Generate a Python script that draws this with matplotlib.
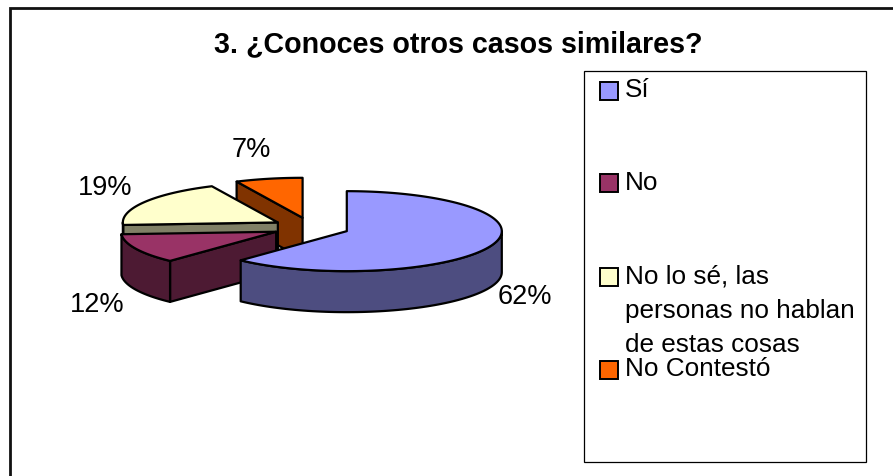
import numpy as np
import matplotlib
matplotlib.use("Agg")
import matplotlib.pyplot as plt
from matplotlib.patches import Polygon, Rectangle

title = "3. ¿Conoces otros casos similares?"
categories = ["Sí", "No", "No lo sé, las\npersonas no hablan\nde estas cosas", "No Contestó"]
values = [62, 12, 19, 7]
top_colors = ["#9999FF", "#993366", "#FFFFCC", "#FF6600"]
side_colors = ["#4D4D80", "#4D1A33", "#808066", "#803300"]

# Layout (pixels of the 893x477 canvas)
W, H = 893, 477
CX, CY, RX, RY, DEPTH, EXPLODE = 311.0, 228.5, 155.0, 40.0, 41.0, 38.5
LABEL_POS = [(525, 297), (97, 305), (105, 188), (251, 150)]
LEG_BOX = (583.5, 71.5, 282.5, 391.5)
LEG_SWATCH_Y = [83, 175, 269, 362]
LEG_TEXT_Y = [97, 190, 284, 376]
LEG_LINE = 34

plt.rcParams["font.family"] = ["Liberation Sans", "DejaVu Sans"]
fig = plt.figure(figsize=(W / 100, H / 100), dpi=100, facecolor="white")
ax = fig.add_axes([0, 0, 1, 1])
ax.set_xlim(0, W)
ax.set_ylim(H, 0)
ax.axis("off")

ax.plot([10, 10, W], [H, 8.5, 8.5], color="#111111", lw=2.0, solid_joinstyle="miter", zorder=1)

LW = 1.6
frac = np.array(values, float) / sum(values)
edges = np.concatenate([[0], np.cumsum(frac)]) * 2 * np.pi


def rim(t, ax0, ay0):
    return ax0 + RX * np.sin(t), ay0 - RY * np.cos(t)


def poly(xs, ys, fc, z):
    ax.add_patch(Polygon(np.column_stack([xs, ys]), closed=True, fc=fc, ec="black",
                         lw=LW, joinstyle="round", zorder=z))


# back-to-front drawing order: last slice first
for z, i in enumerate([3, 2, 1, 0]):
    t0, t1 = edges[i], edges[i + 1]
    mid = (t0 + t1) / 2
    x0 = CX + EXPLODE * np.sin(mid)
    y0 = CY - EXPLODE * np.cos(mid) * RY / RX
    base = 10 + z * 3
    # radial cut face at the slice's starting edge looks towards the viewer
    if i != 0:
        xr, yr = rim(t0, x0, y0)
        poly([xr, x0, x0, xr], [yr, y0, y0 + DEPTH, yr + DEPTH], side_colors[i], base)
    # outer wall: front half of the ellipse only
    a, b = max(t0, np.pi / 2), min(t1, 3 * np.pi / 2)
    if b > a:
        ts = np.linspace(a, b, 80)
        xr, yr = rim(ts, x0, y0)
        poly(np.r_[xr, xr[::-1]], np.r_[yr, yr[::-1] + DEPTH], side_colors[i], base + 1)
    # top face
    ts = np.linspace(t0, t1, 120)
    xr, yr = rim(ts, x0, y0)
    poly(np.r_[x0, xr], np.r_[y0, yr], top_colors[i], base + 2)

for v, (lx, ly) in zip(values, LABEL_POS):
    ax.text(lx, ly, f"{v}%", fontsize=19.5, ha="center", va="center", color="black", zorder=40)

ax.text(458, 52, title, fontsize=20.6, fontweight="bold", ha="center", va="baseline", zorder=40)

lx, ly, lw_, lh = LEG_BOX
ax.add_patch(Rectangle((lx, ly), lw_, lh, fc="white", ec="black", lw=0.9, zorder=30))
for name, col, sy, ty in zip(categories, top_colors, LEG_SWATCH_Y, LEG_TEXT_Y):
    ax.add_patch(Rectangle((600, sy), 18, 17.5, fc=col, ec="black", lw=1.4, zorder=31))
    for k, line in enumerate(name.split("\n")):
        ax.text(625, ty + k * LEG_LINE, line, fontsize=18.8, ha="left", va="baseline", zorder=32)

fig.savefig("out.png", dpi=100, facecolor="white")
